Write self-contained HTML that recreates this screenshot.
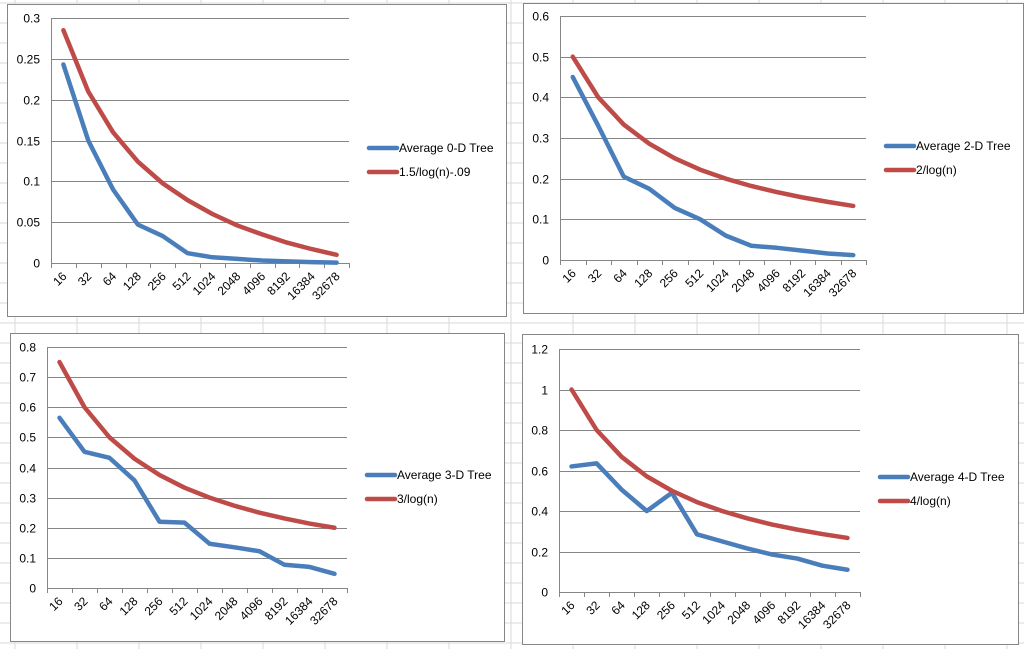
<!DOCTYPE html>
<html><head><meta charset="utf-8">
<style>
html,body{margin:0;padding:0;background:#fff;}
svg{display:block;font-family:"Liberation Sans",sans-serif;}
</style></head>
<body>
<svg id="s" width="1024" height="649" viewBox="0 0 1024 649">
<g id="grid"></g>
</svg>
<script>
const categories = ["16","32","64","128","256","512","1024","2048","4096","8192","16384","32678"];
const blue0D = [0.243,0.15,0.09,0.047,0.033,0.012,0.007,0.005,0.003,0.002,0.001,0.0005];
const red0D = [0.285,0.21,0.16,0.124,0.0975,0.077,0.06,0.046,0.035,0.025,0.017,0.01];
const blue2D = [0.45,0.33,0.205,0.175,0.128,0.1,0.06,0.035,0.03,0.023,0.016,0.012];
const red2D = [0.5,0.4,0.333,0.286,0.25,0.222,0.2,0.182,0.167,0.154,0.143,0.133];
const blue3D = [0.565,0.452,0.432,0.357,0.22,0.217,0.147,0.135,0.122,0.077,0.07,0.047];
const red3D = [0.75,0.6,0.5,0.429,0.375,0.333,0.3,0.273,0.25,0.231,0.214,0.2];
const blue4D = [0.62,0.635,0.505,0.4,0.49,0.285,0.25,0.215,0.185,0.165,0.13,0.11];
const red4D = [1,0.8,0.667,0.571,0.5,0.444,0.4,0.364,0.333,0.308,0.286,0.267];
const ticks0D = ["0","0.05","0.1","0.15","0.2","0.25","0.3"];
const ticks2D = ["0","0.1","0.2","0.3","0.4","0.5","0.6"];
const ticks3D = ["0","0.1","0.2","0.3","0.4","0.5","0.6","0.7","0.8"];
const ticks4D = ["0","0.2","0.4","0.6","0.8","1","1.2"];
const legend0D = ["Average 0-D Tree","1.5/log(n)-.09"];
const legend2D = ["Average 2-D Tree","2/log(n)"];
const legend3D = ["Average 3-D Tree","3/log(n)"];
const legend4D = ["Average 4-D Tree","4/log(n)"];

const NS="http://www.w3.org/2000/svg";
const svg=document.getElementById('s');
function mk(tag,attrs,parent){const e=document.createElementNS(NS,tag);for(const k in attrs)e.setAttribute(k,attrs[k]);(parent||svg).appendChild(e);return e;}

const g=document.getElementById('grid');
for(let x=15;x<1024;x+=62){const l=mk('line',{x1:x,y1:0,x2:x,y2:649,stroke:'#dadada','stroke-width':1},g);

}
for(let y=3;y<649;y+=20){const l=mk('line',{x1:0,y1:y,x2:1024,y2:y,stroke:'#dadada','stroke-width':1},g);

}

function chart(cfg,name,blue,red,ticks,legend){
  const c=mk('g',{});
  
  
  const fr=mk('rect',{x:cfg.fx+0.5,y:cfg.fy+0.5,width:cfg.fw,height:cfg.fh,fill:'#fff',stroke:'#868686','stroke-width':1},c);
  
  
  const max=parseFloat(ticks[ticks.length-1]);
  const ys=v=>cfg.y0-(v/max)*(cfg.y0-cfg.yt);
  const n=categories.length, bw=(cfg.r-cfg.l)/n;
  const xs=i=>cfg.l+bw*(i+0.5);
  ticks.forEach(t=>{
    const y=Math.round(ys(parseFloat(t)))+0.5;
    const gl=mk('line',{x1:cfg.l,y1:y,x2:cfg.r,y2:y,stroke:'#868686','stroke-width':1},c);
    
    
    const tl=mk('text',{x:cfg.l-11,y:y+4,'text-anchor':'end','font-size':12,fill:'#000'},c);
    tl.textContent=t;
    
    
  });
  const ax=mk('line',{x1:cfg.l+0.5,y1:cfg.yt,x2:cfg.l+0.5,y2:cfg.y0+4,stroke:'#868686','stroke-width':1},c);
  
  
  for(let i=0;i<=n;i++){const x=Math.round(cfg.l+bw*i)+0.5;
    const tk=mk('line',{x1:x,y1:cfg.y0,x2:x,y2:cfg.y0+5,stroke:'#868686','stroke-width':1},c);
    
    }
  categories.forEach((cat,i)=>{
    const x=xs(i)+4,y=cfg.y0+14;
    const t=mk('text',{x:x,y:y,'text-anchor':'end','font-size':12,fill:'#000',transform:`rotate(-45 ${x} ${y})`},c);
    t.textContent=cat;
    
    
  });
  [[blue,'#4a7ebb','blue-series'],[red,'#be4b48','red-series']].forEach(([d,col,nm],k)=>{
    const p=mk('polyline',{points:d.map((v,i)=>xs(i)+','+ys(v)).join(' '),fill:'none',stroke:col,'stroke-width':4.5,'stroke-linejoin':'round','stroke-linecap':'round'},c);
    
    
    const ly=cfg.ly+k*24;
    const ll=mk('line',{x1:cfg.lx,y1:ly,x2:cfg.lx+28,y2:ly,stroke:col,'stroke-width':4.5,'stroke-linecap':'round'},c);
    
    
    const lt=mk('text',{x:cfg.lx+30,y:ly+4,'font-size':12,fill:'#000'},c);
    lt.textContent=legend[k];
    
    
  });
}
chart({fx:7,fy:4,fw:499,fh:312,l:51,r:349,yt:18,y0:263,lx:369,ly:148},'chart-0d-tree',blue0D,red0D,ticks0D,legend0D);
chart({fx:523,fy:3,fw:500,fh:310,l:560,r:866,yt:16,y0:260,lx:886,ly:146},'chart-2d-tree',blue2D,red2D,ticks2D,legend2D);
chart({fx:10,fy:333,fw:494,fh:308,l:47,r:347,yt:347,y0:588,lx:367,ly:475},'chart-3d-tree',blue3D,red3D,ticks3D,legend3D);
chart({fx:522,fy:334,fw:496,fh:310,l:559,r:860,yt:349,y0:592,lx:880,ly:477},'chart-4d-tree',blue4D,red4D,ticks4D,legend4D);
</script>
</body></html>
